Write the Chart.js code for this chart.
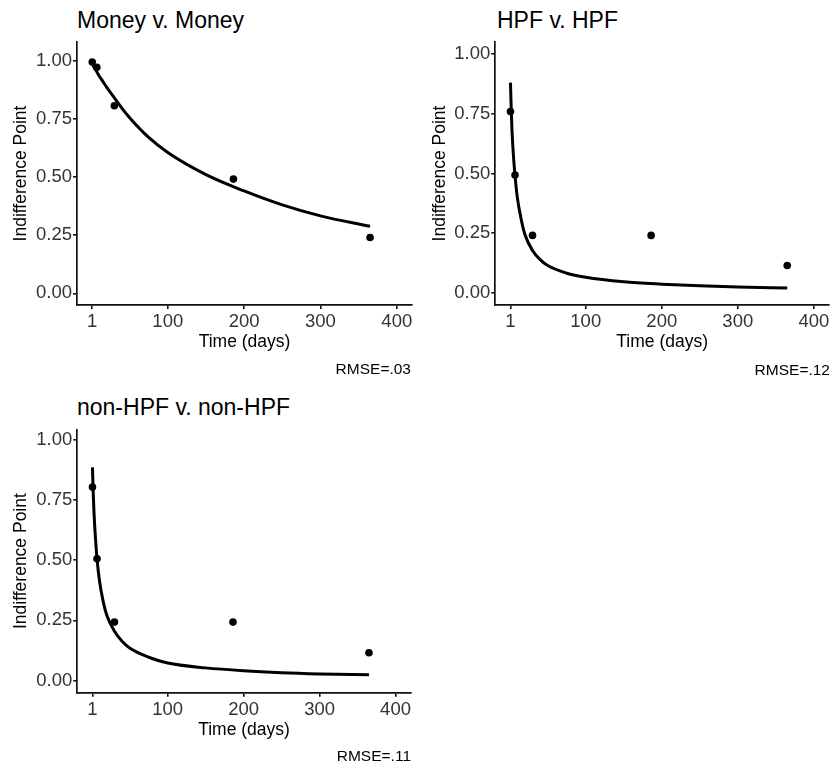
<!DOCTYPE html>
<html>
<head>
<meta charset="utf-8">
<script src="https://cdn.jsdelivr.net/npm/chart.js@4.4.1/dist/chart.umd.min.js"></script>
<style>
    body { margin: 0; background: #fff; }
    #page { position: relative; width: 833px; height: 768px; overflow: hidden; font-family: 'Liberation Sans', Arial, sans-serif; }
    canvas { position: absolute; }
    .title { position: absolute; font-size: 23px; line-height: 23px; color: #000; white-space: nowrap; }
    .rmse { position: absolute; left: 0; font-size: 15.5px; line-height: 15.5px; color: #000; text-align: right; white-space: nowrap; }
</style>
</head>
<body>
<div id="page">
    <div class="title" style="left: 77px; top: 9px;">Money v. Money</div>
    <div class="title" style="left: 497px; top: 9px;">HPF v. HPF</div>
    <div class="title" style="left: 77px; top: 396px;">non-HPF v. non-HPF</div>

    <canvas id="moneyChart" width="420" height="390" style="left: 0; top: 0;"></canvas>
    <canvas id="hpfChart" width="413" height="390" style="left: 420px; top: 0;"></canvas>
    <canvas id="nonHpfChart" width="420" height="378" style="left: 0; top: 390px;"></canvas>

    <div class="rmse" style="width: 411px; top: 361px;">RMSE=.03</div>
    <div class="rmse" style="width: 830px; top: 362px;">RMSE=.12</div>
    <div class="rmse" style="width: 411px; top: 748px;">RMSE=.11</div>
</div>

<script>
// observed indifference points
const pointDays = [1, 7, 30, 186, 365];
const moneyPoints = [0.994, 0.971, 0.806, 0.491, 0.240];
const hpfPoints = [0.759, 0.494, 0.241, 0.241, 0.115];
const nonHpfPoints = [0.803, 0.506, 0.243, 0.243, 0.116];

// fitted curves
const curveDays = [1, 2, 3, 5, 7, 10, 15, 20, 30, 40, 50, 75, 100, 150, 200, 250, 300, 365];
const moneyCurve = [0.985, 0.98, 0.974, 0.963, 0.952, 0.935, 0.91, 0.885, 0.84, 0.795, 0.755, 0.67, 0.605, 0.51, 0.44, 0.38, 0.333, 0.288];
const hpfCurve = [0.88, 0.77, 0.68, 0.57, 0.49, 0.40, 0.31, 0.245, 0.178, 0.14, 0.115, 0.083, 0.066, 0.047, 0.037, 0.03, 0.025, 0.021];
const nonHpfCurve = [0.885, 0.78, 0.70, 0.59, 0.505, 0.42, 0.33, 0.27, 0.205, 0.163, 0.135, 0.097, 0.073, 0.053, 0.041, 0.033, 0.028, 0.024];

const xTickValues = [1, 100, 200, 300, 400];
const yTickValues = [0, 0.25, 0.5, 0.75, 1];

Chart.defaults.font.family = "'Liberation Sans', Arial, sans-serif";

function makePanel(id, points, curve, box) {
    const axisLine = { display: true, color: '#111', width: 1.7 };
    const tickGrid = { display: true, drawOnChartArea: false, drawTicks: true, tickLength: 4, color: '#111', lineWidth: 1.6 };

    return new Chart(document.getElementById(id), {
        type: 'scatter',
        data: {
            datasets: [{
                data: curveDays.map((d, i) => ({ x: d, y: curve[i] })),
                showLine: true,
                borderColor: '#000',
                borderWidth: 3,
                pointRadius: 0,
                cubicInterpolationMode: 'monotone',
                fill: false
            }, {
                data: pointDays.map((d, i) => ({ x: d, y: points[i] })),
                pointRadius: 3.8,
                backgroundColor: '#000',
                borderWidth: 0
            }]
        },
        options: {
            responsive: false,
            maintainAspectRatio: false,
            animation: false,
            layout: { padding: box.pad },
            plugins: { legend: { display: false }, tooltip: { enabled: false } },
            scales: {
                x: {
                    type: 'linear',
                    min: -18.95,
                    max: 419.95,
                    afterBuildTicks: (s) => { s.ticks = xTickValues.map(v => ({ value: v })); },
                    afterFit: (s) => { s.height = box.xHeight; s.paddingLeft = 0; s.paddingRight = 0; },
                    ticks: { color: '#333', font: { size: 18.5 }, padding: 2, maxRotation: 0, autoSkip: false, callback: (v) => String(v) },
                    grid: tickGrid,
                    border: axisLine,
                    title: { display: true, text: 'Time (days)', color: '#000', font: { size: 17.5 }, padding: { top: 0, bottom: box.xTitlePad } }
                },
                y: {
                    min: -0.05,
                    max: box.yMax,
                    afterBuildTicks: (s) => { s.ticks = yTickValues.map(v => ({ value: v })); },
                    afterFit: (s) => { s.width = box.yWidth; s.paddingTop = 0; s.paddingBottom = 0; },
                    ticks: { color: '#333', font: { size: 18.5 }, padding: 1, autoSkip: false, callback: (v) => v.toFixed(2) },
                    grid: tickGrid,
                    border: axisLine,
                    title: { display: true, text: 'Indifference Point', color: '#000', font: { size: 17.5 }, padding: { top: box.yTitlePad, bottom: 0 } }
                }
            }
        }
    });
}

makePanel('moneyChart', moneyPoints, moneyCurve, {
    yMax: 1.08, yWidth: 77, xHeight: 85, xTitlePad: 37, yTitlePad: 10.5,
    pad: { top: 42, right: 8, bottom: 0, left: 0 }
});
makePanel('hpfChart', hpfPoints, hpfCurve, {
    yMax: 1.05, yWidth: 75.3, xHeight: 85, xTitlePad: 37, yTitlePad: 9.3,
    pad: { top: 42, right: 3, bottom: 0, left: 0 }
});
makePanel('nonHpfChart', nonHpfPoints, nonHpfCurve, {
    yMax: 1.042, yWidth: 77.3, xHeight: 75.3, xTitlePad: 27, yTitlePad: 10.5,
    pad: { top: 39.5, right: 9.3, bottom: 0, left: 0 }
});
</script>
</body>
</html>
